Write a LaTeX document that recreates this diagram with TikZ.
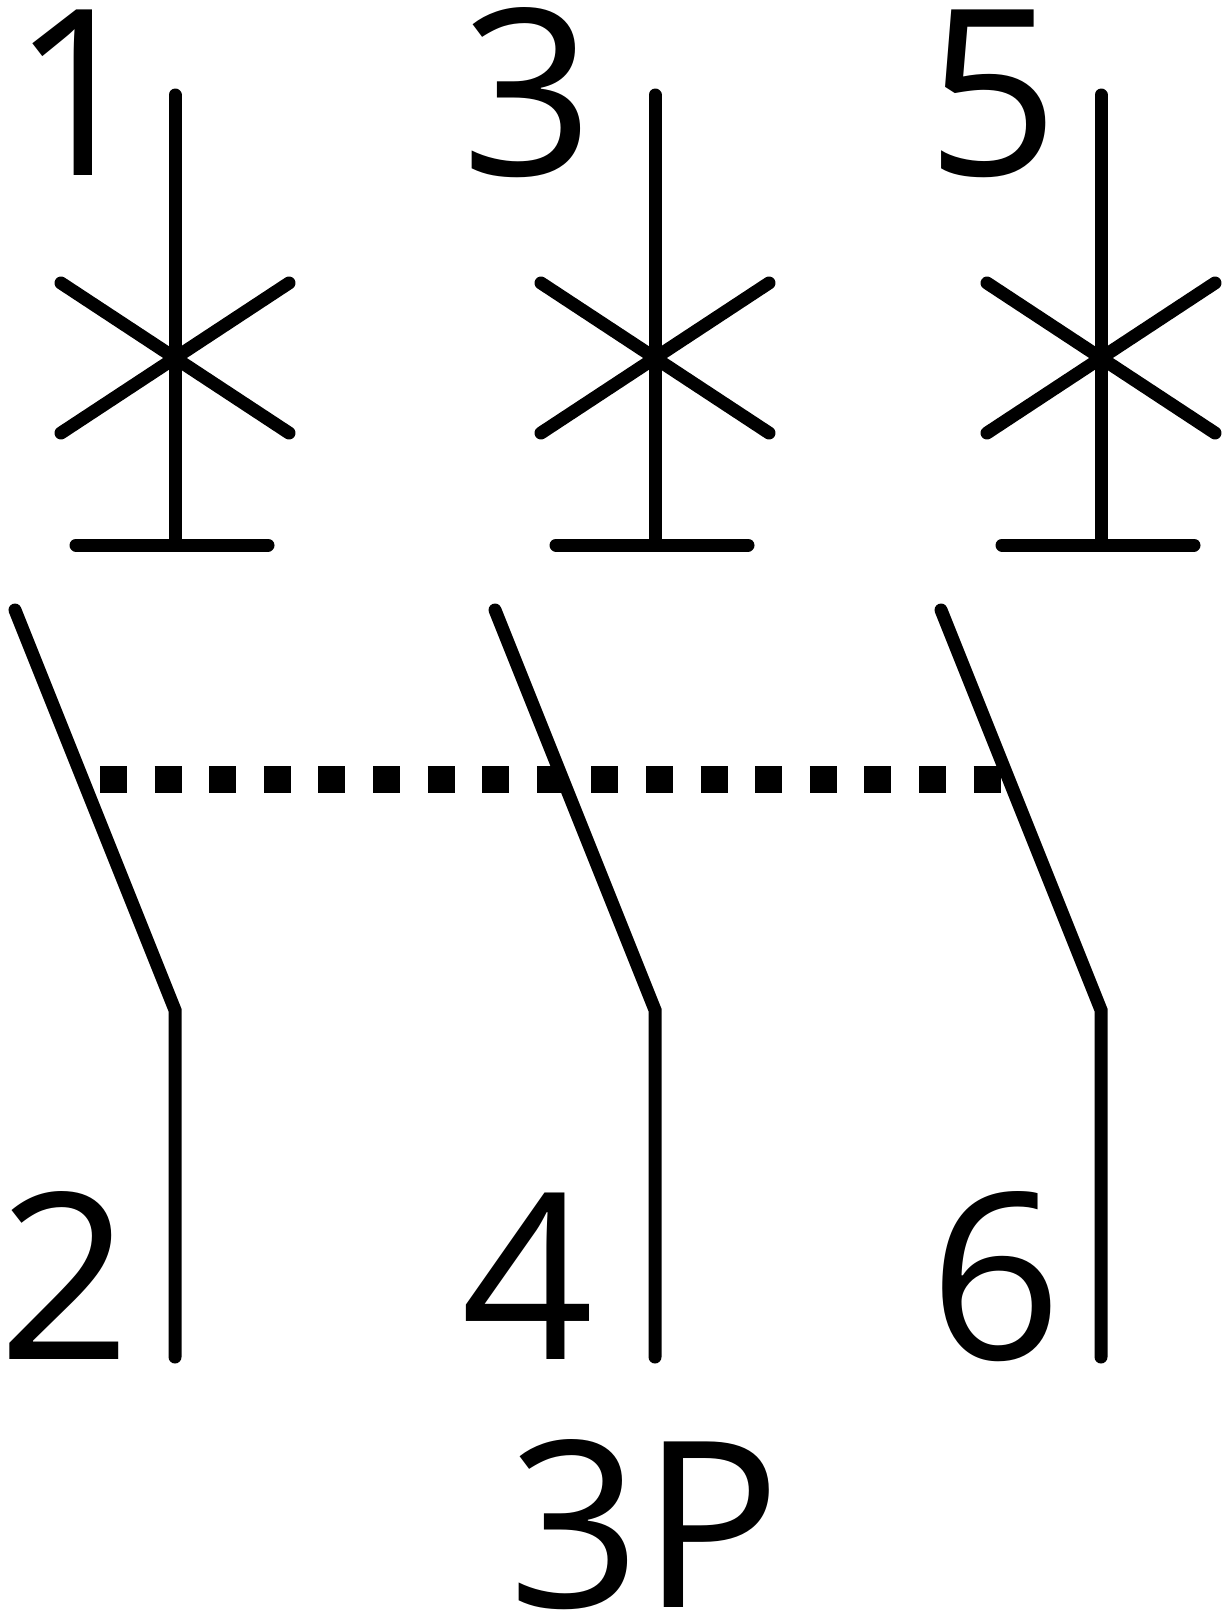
\documentclass[tikz,border=0pt]{standalone}
\usepackage{fontspec}
\setmainfont{Open Sans}
\begin{document}
\begin{tikzpicture}[x=1pt,y=-1pt,
  wire/.style={line width=13pt,line cap=round},
  link/.style={line width=27pt,dash pattern=on 27pt off 27.6pt},
  lbl/.style={inner sep=0pt,anchor=base,font=\fontsize{232}{240}\selectfont}]
\useasboundingbox (0,0) rectangle (1229,1614);
\foreach \x/\n in {175/a,655/b,1101/c} {
  \coordinate (\n top) at (\x,95);
  \coordinate (\n bar) at (\x,545);
  \coordinate (\n open) at (\x-160,610);
  \coordinate (\n bend) at (\x,1010);
  \coordinate (\n bot) at (\x,1357);
  \draw[wire] (\n top) -- (\n bar);
  \draw[wire] (\x-114,283) -- (\x+114,433);
  \draw[wire] (\x-114,433) -- (\x+114,283);
  \draw[wire] (\x-99,545) -- (\x+93,545);
  \draw[wire] (\n open) -- (\n bend) -- (\n bot);
}
\coordinate (linkL) at (100,779.5);
\coordinate (linkR) at (1001,779.5);
\draw[link] (linkL) -- (linkR);
\node[lbl] (t1) at (78,175) {1};
\node[lbl] (t3) at (528,175) {3};
\node[lbl] (t5) at (993,175) {5};
\node[lbl] (t2) at (65,1359) {2};
\node[lbl] (t4) at (528,1359) {4};
\node[lbl] (t6) at (996,1359) {6};
\node[lbl] (t3p) at (645,1607) {3P};
\end{tikzpicture}
\end{document}
